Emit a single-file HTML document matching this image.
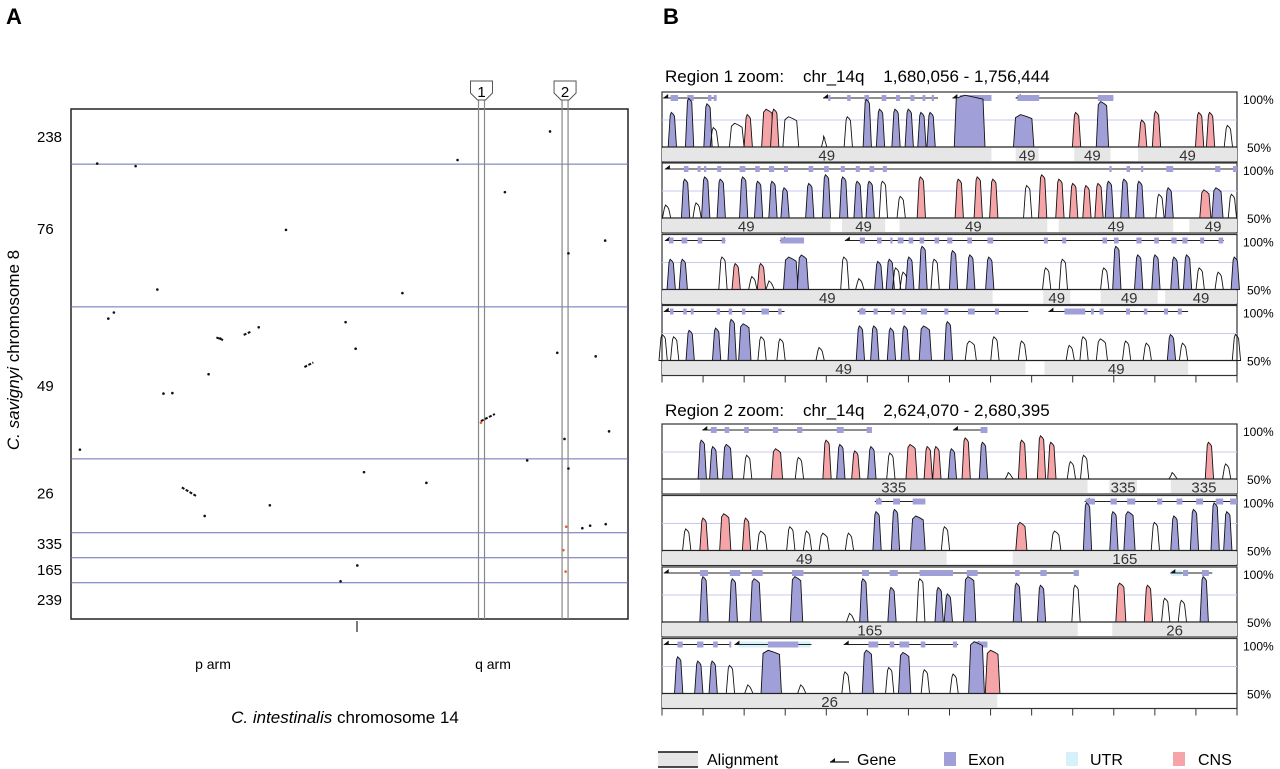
<!DOCTYPE html>
<html><head><meta charset="utf-8"><style>
html,body{margin:0;padding:0;background:#fff;}
svg{display:block;font-family:"Liberation Sans",Arial,sans-serif;}
.pre{white-space:pre;}
</style></head><body>
<svg id="fig" width="1280" height="769" viewBox="0 0 1280 769" xmlns="http://www.w3.org/2000/svg">
<text x="6" y="24" font-size="22" font-weight="bold">A</text>
<text x="663" y="24" font-size="22" font-weight="bold">B</text>
<g id="panelA"></g>
<g id="panelB"></g>
<g id="legend"></g>
</svg>
<script>
// ---------- Panel A data (positions in 0-100 units along each chromosome) ----------
const dotX = [4.7,11.6,69.4,86.0,77.9,38.6,89.3,95.9,15.5,7.7,6.7,49.3,26.8,33.7,51.1,87.3,94.2,24.7,18.2,16.6,96.6,88.6,1.6,81.9,52.6,24.0,93.2,96.0,91.8,89.3,51.4,48.4,59.5,35.7,63.8];
const dotY = [10.7,11.2,10.0,4.4,16.3,23.7,28.3,25.8,35.4,39.9,41.1,41.8,45.0,42.8,47.0,47.8,48.5,52.0,55.7,55.8,63.2,64.7,66.8,68.9,71.2,79.8,81.7,81.4,82.2,70.5,89.5,92.6,36.1,77.7,73.3];
const segX1 = [19.9,41.9,31,26.1,73.6];
const segY1 = [74.2,50.6,44.3,44.8,61.2];
const segX2 = [22.5,43.5,32.2,27.3,76.1];
const segY2 = [75.9,49.7,43.7,45.3,59.8];
const orangeX = [73.6,88.9,88.4,88.8];
const orangeY = [61.5,81.9,86.5,90.7];
const yLabels = ['238','76','49','26','335','165','239'];
const yLabelPos = [5.5,23.5,54.3,75.4,85.3,90.4,96.3];
const yBoundaries = [10.8,38.8,68.6,83.1,88.0,92.9];
const regionMarkX = [73.7,88.7];
const regionMarkName = ['1','2'];

// ---------- Panel B data ----------
const r1t1Peaks = [[1.8,82,'e'],[4.8,95,'e'],[8,90,'e'],[9.1,68,'n'],[13,72,'n',2.2],[15,80,'c'],[18.4,85,'c',1.8],[19.6,85,'c'],[22.4,78,'n',2.4],[28.2,60,'n',0.6],[32.4,78,'n'],[35.7,94,'e'],[38,85,'e'],[40.7,85,'e'],[43,85,'e'],[45.2,82,'e'],[46.8,82,'e'],[53.5,98,'e',5],[62.9,80,'e',3.2],[72.1,82,'c'],[76.6,92,'e',1.8],[83.6,75,'c'],[86,83,'c'],[93.5,82,'c'],[95.4,82,'c'],[98.5,70,'n']];
const r1t1Genes = [[0.2,9.5,[[1.5,2.8],[4.4,5.5],[8,8.6],[9,9.5]]],[28,48,[[28.9,29.3],[32.2,32.8],[35.2,36],[38.2,39],[40.7,41.4],[43.2,43.9],[45.3,45.8],[46.9,47.3]]],[50.5,57.3,[[51.8,57.3]]],[61.5,78.5,[[61.8,65.6],[75.8,78.5]]]];
const r1t1Aligns = [[0,57.3,'49'],[61.5,65.5,'49'],[71.7,78,'49'],[82.8,100,'49']];

const r1t2Peaks = [[0.8,62,'n'],[4.1,86,'e'],[6.1,64,'n'],[7.6,88,'e'],[10.3,86,'e'],[14.2,88,'e'],[16.8,84,'e'],[19.3,84,'e'],[21.4,78,'e'],[25.7,82,'e'],[28.6,90,'e'],[31.6,88,'e'],[34.1,84,'e'],[36.2,84,'e'],[38.5,84,'n'],[41.6,70,'n'],[45.1,88,'c'],[51.7,86,'c'],[55,88,'c'],[57.7,86,'c'],[63.6,80,'n'],[66.2,90,'c'],[69.2,86,'c'],[71.6,82,'c'],[73.9,80,'c'],[76,82,'c'],[77.8,84,'e'],[80.5,86,'e'],[83.1,84,'e'],[86.6,72,'n'],[88.2,78,'e'],[94.5,76,'c',1.6],[96.6,78,'e',1.6],[99.2,72,'n']];
const r1t2Genes = [[0.5,100,[[3.8,4.6],[6.2,6.7],[7.3,7.7],[9.6,10.3],[13.5,14.5],[16.2,17],[18.6,19.5],[21.2,21.9],[25.5,26.3],[28.2,29],[31.1,31.8],[33.7,34.4],[36.1,36.9],[38.4,39.1],[77.8,78.2],[80.8,81.4],[83.3,83.7],[87.7,88.9],[96.2,97.1],[99.3,100]]]];
const r1t2Aligns = [[0,29.3,'49'],[31.3,38.8,'49'],[41.3,67,'49'],[69,88.9,'49'],[91.7,100,'49']];

const r1t3Peaks = [[1.6,78,'e'],[3.7,78,'e'],[10.6,80,'n'],[12.9,74,'c'],[15.8,62,'n'],[17.3,74,'c'],[18.8,58,'n'],[22.4,80,'e',2.2],[24.5,82,'e',1.6],[31.8,80,'n'],[34.4,60,'n'],[37.7,76,'e'],[39.7,78,'e'],[40.8,70,'n'],[42.1,66,'n'],[43.1,80,'e'],[45.4,90,'e'],[47.5,78,'n'],[50.7,86,'e'],[53.7,82,'e'],[57,80,'e'],[66.9,70,'n'],[69.8,78,'n'],[77,70,'n'],[79.1,90,'e'],[82.9,82,'e'],[85.9,82,'e'],[89.2,80,'e'],[91.4,82,'e'],[93.6,70,'n'],[96.9,66,'n'],[99.7,80,'e']];
const r1t3Genes = [[0.5,11,[[1.2,2],[3.4,4.4],[6.2,7],[10.4,11]]],[20.5,24.7,[[20.6,24.7]]],[31.8,97.7,[[34.4,35.3],[37.4,38.2],[39.7,40.1],[41,42],[42.9,43.7],[44.8,45.6],[47.4,48.2],[49.6,50.5],[53.1,53.9],[56.6,57.6],[66.4,67.1],[69.6,70.3],[76.6,77.4],[78.6,79.4],[82.5,83.4],[85.6,86.4],[88.6,89.5],[90.5,91.4],[93.6,94.3],[96.8,97.6]]]];
const r1t3Aligns = [[0,57.5,'49'],[66.3,71,'49'],[76.3,86.2,'49'],[87.5,100,'49']];

const r1t4Peaks = [[0.2,74,'n'],[2.2,72,'n'],[4.9,78,'e'],[9.5,80,'e'],[12.2,88,'e'],[14.4,84,'e',1.8],[17.4,72,'n'],[20.7,70,'n'],[27.5,62,'n'],[34.5,82,'e'],[37,82,'e'],[39.9,80,'e'],[42.3,82,'e'],[45.8,82,'e',1.8],[49.8,86,'e'],[53.7,68,'n',1.6],[57.9,72,'n'],[62.7,68,'n'],[71,64,'n'],[73.4,72,'n'],[76.5,70,'n',1.6],[80.8,68,'n'],[84.4,66,'n'],[88.6,74,'e'],[90.7,66,'n'],[99.9,74,'n']];
const r1t4Genes = [[0.3,21.3,[[1.4,2],[3.7,4.3],[5,5.5],[9.5,10.1],[11.6,12.2],[13.9,14.5],[17.3,18.6],[20.2,20.8]]],[34,63.7,[[34.3,35.4],[36.8,37.5],[39.8,40.5],[41.8,42.4],[45,46.1],[49.1,49.8],[53.2,54.4],[57.9,58.6]]],[67.2,91.5,[[70,73.6],[74.6,75.1],[76.1,76.8],[80.7,81.4],[83.8,84.4],[87.3,88],[89.7,90.4]]]];
const r1t4Aligns = [[0,63.2,'49'],[66.5,91.5,'49']];

const r2t1Peaks = [[7,86,'e'],[9,80,'e'],[11.4,82,'e',1.4],[14.9,72,'n'],[20,78,'c',1.6],[23.9,70,'n'],[28.7,86,'c'],[31.1,82,'e'],[33.7,76,'c'],[36.5,80,'e'],[39.8,74,'n'],[43.4,82,'c',1.6],[46.3,80,'c'],[47.8,80,'c'],[50.5,78,'e'],[52.9,88,'c'],[55.9,84,'e'],[60.4,56,'n'],[62.7,86,'c'],[66,90,'c'],[67.8,84,'c'],[71.2,66,'n'],[73.5,72,'n'],[88.9,56,'n'],[95.2,84,'c'],[98.2,64,'n']];
const r2t1Genes = [[7,36.5,[[8.5,9.5],[10.9,11.7],[14.3,15.1],[19.3,20.2],[23.5,24.4],[30.4,31.6],[35.6,36.5]]],[50.6,56.6,[[55.4,56.6]]]];
const r2t1Aligns = [[6.6,74,'335'],[77.8,82.6,'335'],[88.5,100,'335']];

const r2t2Peaks = [[4.3,70,'n'],[7.3,80,'c'],[11,84,'c',1.6],[14.7,80,'c'],[17.4,68,'n',1.4],[22.4,72,'n'],[25.3,68,'n'],[28.2,66,'n',1.4],[32.6,66,'n'],[37.4,86,'e'],[40.6,88,'e'],[44.5,82,'e',2.2],[49.3,72,'n'],[62.5,76,'c',1.6],[68.5,68,'n',1.4],[74,94,'e'],[78.6,86,'e'],[81.3,86,'e',1.6],[85.8,76,'n'],[89.2,82,'e'],[92.6,88,'e'],[96.2,94,'e'],[98.4,86,'e']];
const r2t2Genes = [[37,45.8,[[37.2,38.2],[40.2,41.4],[43.6,45.8]]],[73.5,100,[[73.7,75.3],[78,79.1],[80.9,82.3],[86.1,87],[89.5,90.5],[92.9,94.1],[96.3,97.6],[98.8,100]]]];
const r2t2Aligns = [[0,49.5,'49'],[61,100,'165']];

const r2t3Peaks = [[7.3,92,'e'],[12.4,90,'e'],[16.3,90,'e',1.6],[23.4,92,'e',1.8],[32.8,58,'n'],[35.1,90,'e'],[40,82,'e'],[45,90,'n'],[48.2,82,'e'],[49.8,76,'e'],[53.5,92,'e',1.8],[61.8,86,'e'],[66,84,'e'],[72,84,'n'],[79.8,86,'c',1.4],[84.6,84,'c'],[87.6,72,'n'],[90.5,70,'n'],[94.3,92,'e']];
const r2t3Genes = [[0.3,72.5,[[6.6,8],[11.8,13.6],[15.6,17.5],[22.6,24.6],[34.8,36],[39.6,41],[44.8,50.6],[53,54.9],[61.4,62.2],[65.8,66.9],[71.6,72.5]]],[88.4,95.7,[[90.6,91.5],[93.9,95.1]]]];
const r2t3Utrs = [[88.5,90.4]];
const r2t3Aligns = [[0,72.3,'165'],[78.3,100,'26']];

const r2t4Peaks = [[2.9,84,'e'],[6.4,80,'e'],[8.9,80,'e'],[11.9,76,'n'],[15.1,58,'n'],[19,90,'e',3.2],[24.3,58,'n'],[32,70,'n'],[35.8,90,'e',1.6],[39.6,74,'n'],[42.2,88,'e',1.8],[45.8,72,'n'],[50.8,68,'n'],[54.7,98,'e',2.4],[57.5,90,'c',2.2]];
const r2t4Genes = [[0.3,12,[[2.7,3.6],[6.1,7.2],[8.9,9.7],[11.7,12]]],[12.6,26,[[18.4,23.7]]],[31.6,51.5,[[35.9,37.6],[39.6,40.4],[41.3,43],[45,45.8],[50.6,51.3]]],[54.3,56.5,[[54.6,56.6]]]];
const r2t4Utrs = [[13.3,18.4],[23.7,25.8]];
const r2t4Aligns = [[0,58.3,'26']];

const region1Title = 'Region 1 zoom:    chr_14q    1,680,056 - 1,756,444';
const region2Title = 'Region 2 zoom:    chr_14q    2,624,070 - 2,680,395';

// ---------- drawing ----------
const NS = 'http://www.w3.org/2000/svg';
function mk(tag, attrs, parent){ const e=document.createElementNS(NS,tag); for(const k in attrs) e.setAttribute(k,attrs[k]); parent.appendChild(e); return e; }

const A = document.getElementById('panelA');
const ax0=71, ax1=628, ay0=109, ay1=619;
const sx = v => ax0 + v/100*(ax1-ax0);
const sy = v => ay0 + v/100*(ay1-ay0);
const frameA = mk('rect',{x:ax0,y:ay0,width:ax1-ax0,height:ay1-ay0,fill:'#fff',stroke:'#222','stroke-width':1.5},A);


yBoundaries.forEach(b=>{
  const l=mk('line',{x1:ax0,x2:ax1,y1:sy(b),y2:sy(b),stroke:'#6a6fb8','stroke-width':1},A);
  
  
});
yLabels.forEach((t,i)=>{
  const e=mk('text',{x:37,y:sy(yLabelPos[i])+5,'font-size':15,'text-anchor':'start'},A);
  e.textContent=t;
  
  
});
regionMarkX.forEach((v,i)=>{
  const cx=sx(v);
  mk('line',{x1:cx-3,x2:cx-3,y1:100,y2:ay1,stroke:'#888','stroke-width':1.2},A);
  mk('line',{x1:cx+3,x2:cx+3,y1:100,y2:ay1,stroke:'#888','stroke-width':1.2},A);
  const p=mk('path',{d:`M${cx-11},81 L${cx+11},81 L${cx+11},93 L${cx+4},100 L${cx-4},100 L${cx-11},93 Z`,fill:'#fff',stroke:'#555','stroke-width':1},A);
  
  
  const t=mk('text',{x:cx,y:97,'font-size':15,'text-anchor':'middle'},A);
  t.textContent=regionMarkName[i];
  
  
});
dotX.forEach((v,i)=>{
  const d=mk('circle',{cx:sx(v),cy:sy(dotY[i]),r:1.3,fill:'#111'},A);
  
  
});
segX1.forEach((v,i)=>{
  const s=mk('line',{x1:sx(v),y1:sy(segY1[i]),x2:sx(segX2[i]),y2:sy(segY2[i]),stroke:'#111','stroke-width':2,'stroke-dasharray':'3 1.5'},A);
  
  
});
orangeX.forEach((v,i)=>{
  const d=mk('circle',{cx:sx(v),cy:sy(orangeY[i]),r:1.3,fill:'#e8602a'},A);
  
  
});
mk('line',{x1:357,x2:357,y1:ay1+2,y2:ay1+13,stroke:'#222','stroke-width':1.2},A);
[['p arm',213],['q arm',493]].forEach(([t,x])=>{
  const e=mk('text',{x:x,y:669,'font-size':14,'text-anchor':'middle'},A);
  e.textContent=t;
  
  
});
const xt=mk('text',{x:345,y:723,'font-size':17,'text-anchor':'middle'},A);
xt.innerHTML='<tspan font-style="italic">C. intestinalis</tspan> chromosome 14';


const yt=mk('text',{x:0,y:0,'font-size':17,'text-anchor':'middle',transform:'translate(19,350) rotate(-90)'},A);
yt.innerHTML='<tspan font-style="italic">C. savignyi</tspan> chromosome 8';



const B = document.getElementById('panelB');
const bx0=662, bx1=1237;
const px = v => bx0 + v/100*(bx1-bx0);
const fills = {e:'#a19fd8', c:'#f5a4a8', n:'none'};

function drawTrack(top, peaks, genes, aligns, utrs, ticks){
  const g=mk('g',{},B);
  
  
  const base=top+55, bot=top+70;
  const py = pct => base - (pct-50)/50*(base-top-1);
  mk('rect',{x:bx0,y:top,width:bx1-bx0,height:bot-top,fill:'#fff',stroke:'#333','stroke-width':1.2},g);
  mk('line',{x1:bx0,x2:bx1,y1:py(75),y2:py(75),stroke:'#c9c8f0','stroke-width':1},g);
  aligns.forEach(a=>{
    const r=mk('rect',{x:px(a[0]),y:base+1,width:px(a[1])-px(a[0]),height:bot-base-2,fill:'#e6e6e6'},g);
    
    
    const t=mk('text',{x:(px(a[0])+px(a[1]))/2,y:bot-1.5,'font-size':15,'text-anchor':'middle',fill:'#333'},g);
    t.textContent=a[2];
    
    
  });
  const gy=top+6;
  (utrs||[]).forEach(u=>{
    mk('rect',{x:px(u[0]),y:gy-3,width:px(u[1])-px(u[0]),height:6,fill:'#d6f1fa'},g);
  });
  genes.forEach(ge=>{
    const gl=mk('line',{x1:px(ge[0]),x2:px(ge[1]),y1:gy,y2:gy,stroke:'#222','stroke-width':1},g);
    
    
    mk('path',{d:`M${px(ge[0])},${gy} l5,-4 l0,4 z`,fill:'#111'},g);
    ge[2].forEach(ex=>{
      const r=mk('rect',{x:px(ex[0]),y:gy-3,width:Math.max(2,px(ex[1])-px(ex[0])),height:6,fill:'#a19fd8'},g);
      
      
    });
  });
  peaks.forEach(p=>{
    const w=(p[3]||1.1)/100*(bx1-bx0), cx=px(p[0]), top2=py(p[1]);
    const d=`M${cx-w/2-1},${base} L${cx-w/2+1},${top2+3} L${cx-w/6},${top2} L${cx+w/6},${top2+2} L${cx+w/2-1},${top2+4} L${cx+w/2+1},${base} Z`;
    const e=mk('path',{d:d,fill:fills[p[2]],stroke:'#111','stroke-width':0.9},g);
    
    
  });
  mk('line',{x1:bx0,x2:bx1,y1:base,y2:base,stroke:'#222','stroke-width':1.2},g);
  const l1=mk('text',{x:1243,y:top+12,'font-size':12},g); l1.textContent='100%';
  
  
  const l2=mk('text',{x:1247,y:base+5,'font-size':12},g); l2.textContent='50%';
  
  
  if(ticks){
    for(let i=0;i<=14;i++){
      const x=bx0+i*(bx1-bx0)/14;
      mk('line',{x1:x,x2:x,y1:bot,y2:bot+7,stroke:'#333','stroke-width':1},g);
    }
  }
}
function title(y,t){
  const e=mk('text',{x:665,y:y,'font-size':17,'class':'pre'},B);
  e.textContent=t;
  
  
}
title(82,region1Title);
drawTrack(92,r1t1Peaks,r1t1Genes,r1t1Aligns);
drawTrack(163,r1t2Peaks,r1t2Genes,r1t2Aligns);
drawTrack(234.5,r1t3Peaks,r1t3Genes,r1t3Aligns);
drawTrack(305.5,r1t4Peaks,r1t4Genes,r1t4Aligns,null,true);
title(416,region2Title);
drawTrack(424,r2t1Peaks,r2t1Genes,r2t1Aligns);
drawTrack(495.5,r2t2Peaks,r2t2Genes,r2t2Aligns);
drawTrack(567,r2t3Peaks,r2t3Genes,r2t3Aligns,r2t3Utrs);
drawTrack(638.5,r2t4Peaks,r2t4Genes,r2t4Aligns,r2t4Utrs,true);

const L=document.getElementById('legend');
mk('rect',{x:658,y:752,width:40,height:15,fill:'#e6e6e6'},L);
mk('line',{x1:658,x2:698,y1:752,y2:752,stroke:'#111','stroke-width':1.5},L);
mk('line',{x1:658,x2:698,y1:767,y2:767,stroke:'#111','stroke-width':1.5},L);
mk('line',{x1:830,x2:849,y1:762,y2:762,stroke:'#111','stroke-width':1.2},L);
mk('path',{d:'M830,762 l5,-4 l0,4 z',fill:'#111'},L);
mk('rect',{x:944,y:752,width:12,height:14,fill:'#a19fd8'},L);
mk('rect',{x:1066,y:752,width:12,height:14,fill:'#d6f1fa'},L);
mk('rect',{x:1173,y:752,width:12,height:14,fill:'#f5a4a8'},L);
[['Alignment',707],['Gene',857],['Exon',968],['UTR',1090],['CNS',1198]].forEach(([t,x])=>{
  const e=mk('text',{x:x,y:765,'font-size':16},L);
  e.textContent=t;
  
  
});
</script>
</body></html>
